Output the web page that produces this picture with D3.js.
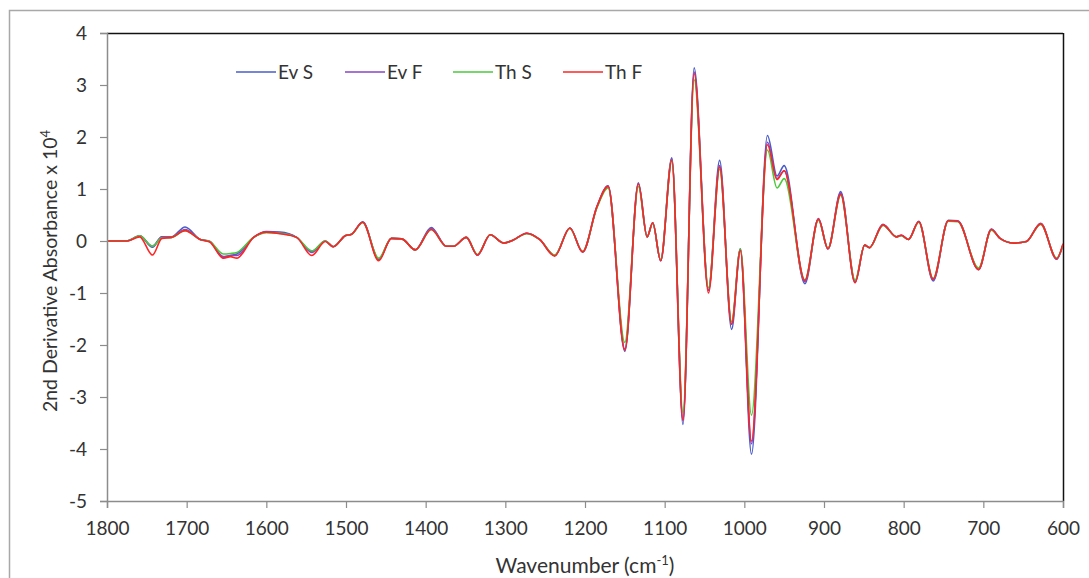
<!DOCTYPE html>
<html><head><meta charset="utf-8">
<script src="https://cdn.jsdelivr.net/npm/d3@7"></script>
<style>
html,body{margin:0;padding:0;background:#fff;}
svg{display:block;font-family:Lato, "Open Sans", sans-serif;}
</style></head>
<body>
<svg id="chart" width="1089" height="578"></svg>
<script>
// Wavenumber grid (cm-1) at read-off points
const wavenumbers = [1800,1775,1759,1743,1731,1719,1702,1683,1671,1654,1645,1637,1616,1600,1583,1562,1543,1526,1516,1501,1493,1479,1459,1443,1430,1413,1393,1374,1365,1349,1335,1319,1302,1290,1273,1257,1238,1219,1203,1185,1171,1150,1133,1122,1115,1105,1091,1077,1063,1045,1031,1016,1005,991,971,959,950,924,907,895,879,861,849,843,826,809,803,794,781,763,744,732,706,690,679,662,646,628,608,600];
const evS = [0,0,0.1,-0.12,0.08,0.08,0.27,0.03,-0.01,-0.32,-0.28,-0.25,0.07,0.18,0.17,0.07,-0.2,0,-0.11,0.1,0.13,0.37,-0.36,0.05,0.04,-0.17,0.26,-0.1,-0.1,0.07,-0.27,0.12,-0.04,0.02,0.15,0.03,-0.28,0.25,-0.21,0.66,1.06,-2.12,1.12,0.08,0.35,-0.38,1.6,-3.53,3.33,-0.95,1.55,-1.7,-0.15,-4.1,2.03,1.25,1.45,-0.82,0.43,-0.15,0.95,-0.8,-0.08,-0.13,0.32,0.08,0.11,0.03,0.38,-0.77,0.4,0.39,-0.55,0.23,0.05,-0.04,-0.01,0.34,-0.35,-0.07];
const evF = [0,0,0.1,-0.1,0.08,0.07,0.22,0.03,-0.01,-0.3,-0.28,-0.28,0.07,0.17,0.16,0.07,-0.22,0,-0.11,0.1,0.13,0.36,-0.35,0.05,0.04,-0.17,0.24,-0.1,-0.1,0.07,-0.27,0.12,-0.04,0.02,0.15,0.03,-0.28,0.25,-0.21,0.66,1.05,-2.08,1.1,0.08,0.35,-0.38,1.58,-3.45,3.25,-0.95,1.45,-1.6,-0.16,-3.9,1.9,1.2,1.35,-0.78,0.42,-0.15,0.92,-0.78,-0.08,-0.13,0.31,0.08,0.11,0.03,0.37,-0.75,0.39,0.38,-0.54,0.22,0.05,-0.04,-0.01,0.33,-0.34,-0.07];
const thS = [0,0,0.1,-0.1,0.06,0.07,0.2,0.03,-0.01,-0.25,-0.24,-0.22,0.07,0.16,0.15,0.07,-0.19,0,-0.11,0.1,0.13,0.35,-0.33,0.05,0.04,-0.17,0.22,-0.1,-0.1,0.07,-0.26,0.12,-0.04,0.02,0.14,0.03,-0.27,0.24,-0.2,0.64,1.02,-1.95,1.05,0.08,0.34,-0.36,1.55,-3.3,3.1,-0.9,1.38,-1.55,-0.15,-3.35,1.75,1.02,1.2,-0.75,0.4,-0.14,0.88,-0.75,-0.08,-0.13,0.3,0.08,0.1,0.03,0.36,-0.72,0.38,0.37,-0.52,0.21,0.05,-0.04,-0.01,0.32,-0.33,-0.07];
const thF = [0,0,0.08,-0.27,0.05,0.07,0.2,0.03,-0.02,-0.33,-0.3,-0.33,0.07,0.17,0.14,0.07,-0.28,-0.01,-0.11,0.1,0.13,0.36,-0.38,0.05,0.04,-0.17,0.22,-0.1,-0.1,0.07,-0.27,0.12,-0.04,0.02,0.15,0.03,-0.29,0.25,-0.21,0.66,1.05,-2.1,1.1,0.08,0.35,-0.38,1.55,-3.45,3.22,-1.0,1.42,-1.6,-0.18,-3.85,1.85,1.18,1.35,-0.76,0.42,-0.15,0.9,-0.8,-0.08,-0.13,0.31,0.08,0.11,0.03,0.37,-0.73,0.39,0.38,-0.55,0.22,0.05,-0.04,-0.01,0.33,-0.34,-0.05];
const seriesNames = ["Ev S","Ev F","Th S","Th F"];
const seriesColors = ["#4a5cc8","#8a44c4","#4cc83c","#ff2424"];
const xTicks = [1800,1700,1600,1500,1400,1300,1200,1100,1000,900,800,700,600];
const yTicks = [-5,-4,-3,-2,-1,0,1,2,3,4];

const svg = d3.select("#chart");
const pL = 107, pR = 1063, pT = 33, pB = 501;

// outer chart border
svg.append("rect").attr("x",9.5).attr("y",10.5).attr("width",1100).attr("height",600)
  .attr("fill","none").attr("stroke","#a8a8a8").attr("stroke-width",1.5);

const x = d3.scaleLinear().domain([1800,600]).range([pL,pR]);
const y = d3.scaleLinear().domain([-5,4]).range([pB,pT]);

// plot frame (top & right dark)
svg.append("line").attr("x1",pL).attr("x2",pR).attr("y1",pT+0.5).attr("y2",pT+0.5).attr("stroke","#111").attr("stroke-width",1.5);
svg.append("line").attr("x1",pR+0.5).attr("x2",pR+0.5).attr("y1",pT).attr("y2",pB).attr("stroke","#111").attr("stroke-width",1.5);

const series = [evS, evF, thS, thF];
svg.append("clipPath").attr("id","pc").append("rect")
  .attr("x",pL).attr("y",pT).attr("width",pR-pL).attr("height",pB-pT);
const line = d3.line().x(d=>x(d[0])).y(d=>y(d[1])).curve(d3.curveMonotoneX);
const g = svg.append("g").attr("clip-path","url(#pc)");
series.forEach((vals,i)=>{
  g.append("path").datum(wavenumbers.map((w,j)=>[w,vals[j]]))
    .attr("d",line).attr("fill","none").attr("stroke",seriesColors[i])
    .attr("stroke-width",1.6).attr("stroke-linejoin","round");
});

// axes
const fmt = d => String(d);
const yAxis = d3.axisLeft(y).tickValues(yTicks).tickSize(7).tickPadding(13).tickFormat(fmt);
const ya = svg.append("g").attr("transform",`translate(${pL},0)`).call(yAxis);
const xAxis = d3.axisBottom(x).tickValues(xTicks).tickSize(7).tickPadding(14).tickFormat(fmt);
const xa = svg.append("g").attr("transform",`translate(0,${pB})`).call(xAxis);
[ya,xa].forEach(a=>{
  a.select(".domain").attr("stroke","#8c8c8c").attr("stroke-width",1.5);
  a.selectAll(".tick line").attr("stroke","#8c8c8c").attr("stroke-width",1.2);
  a.selectAll(".tick text").attr("fill","#333").style("font-size","19px").style("font-family","Lato, sans-serif");
});

// axis titles
const xt = svg.append("text").attr("x",(pL+pR)/2).attr("y",573).attr("text-anchor","middle")
  .attr("fill","#333").style("font-size","21px");
xt.append("tspan").text("Wavenumber (cm");
xt.append("tspan").text("-1").attr("dy",-8).style("font-size","13px");
xt.append("tspan").text(")").attr("dy",8);

const yt = svg.append("text").attr("transform",`translate(57,271) rotate(-90)`)
  .attr("text-anchor","middle").attr("fill","#333").style("font-size","19.5px");
yt.append("tspan").text("2nd Derivative Absorbance x 10");
yt.append("tspan").text("4").attr("dy",-7).style("font-size","13px");

// legend
const legX = [236,345,453,563];
seriesNames.forEach((n,i)=>{
  svg.append("line").attr("x1",legX[i]).attr("x2",legX[i]+40).attr("y1",72).attr("y2",72)
    .attr("stroke",seriesColors[i]).attr("stroke-width",1.6);
  svg.append("text").attr("x",legX[i]+42).attr("y",79).attr("fill","#333")
    .style("font-size","19px").text(n);
});
</script>
</body></html>
